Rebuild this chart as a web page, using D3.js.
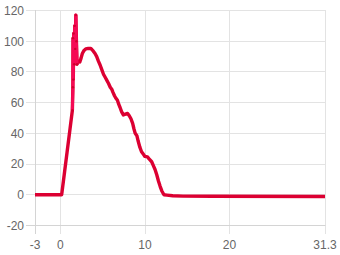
<!DOCTYPE html>
<html><head><meta charset="utf-8">
<script src="https://cdn.jsdelivr.net/npm/d3@7"></script>
<style>html,body{margin:0;padding:0;background:#fff;}svg{display:block;}</style>
</head><body>
<svg id="c" width="340" height="255"></svg>
<script>
const xTicks = [-3, 0, 10, 20, 31.3];
const yTicks = [-20, 0, 20, 40, 60, 80, 100, 120];
const xs = [-3, 0, 0.15, 0.2, 0.5, 0.8, 1.1, 1.42, 1.48, 1.5, 1.53, 1.58, 1.63, 1.7, 1.76, 1.83, 1.9, 1.97, 2.1, 2.3, 2.45, 2.6, 2.8, 3.0, 3.3, 3.6, 3.9, 4.1, 4.3, 4.5, 4.7, 4.9, 5.1, 5.3, 5.5, 5.7, 5.9, 6.1, 6.2, 6.4, 6.55, 6.75, 6.9, 7.05, 7.25, 7.45, 7.7, 7.95, 8.15, 8.35, 8.55, 8.7, 8.85, 9.05, 9.2, 9.4, 9.6, 9.8, 10.0, 10.3, 10.55, 10.8, 11.0, 11.2, 11.4, 11.6, 11.8, 12.0, 12.25, 12.6, 13.3, 14.5, 18, 31.3];
const ys = [0, 0, 0, 2, 15, 28, 41, 55, 70, 102, 75, 105, 85, 110, 95, 117, 100, 85, 87, 86.5, 89, 92, 94, 95, 95.3, 95.3, 93.5, 92, 90, 87, 84.5, 81.5, 78.5, 76.5, 74.5, 72.5, 70, 68.5, 67, 64.5, 63, 61.5, 59, 57, 54, 52, 52.5, 53, 51.5, 49.5, 46.5, 43, 40, 38.5, 35, 31, 28, 26.5, 25, 24.7, 23, 21.5, 19, 16.5, 13, 9, 5.5, 2.5, 0, -0.2, -0.6, -0.9, -1, -1.1];

const svg = d3.select('#c');
const x = d3.scaleLinear().domain([-3, 31.3]).range([35, 325]);
const y = d3.scaleLinear().domain([-20, 120]).range([225.5, 10.5]);
const px = v => Math.round(x(v)) + 0.5;
const py = v => Math.round(y(v) - 0.5) + 0.5;

const grid = svg.append('g');
yTicks.forEach(t => {
  grid.append('line').attr('x1', 26).attr('x2', 325.5).attr('y1', py(t)).attr('y2', py(t))
    .attr('stroke', '#e3e3e3').attr('stroke-width', 1);
});
xTicks.forEach(t => {
  grid.append('line').attr('x1', px(t)).attr('x2', px(t)).attr('y1', 10).attr('y2', 234)
    .attr('stroke', '#e3e3e3').attr('stroke-width', 1);
});
grid.append('line').attr('x1', px(-3)).attr('x2', px(-3)).attr('y1', 10).attr('y2', 234).attr('stroke', '#d4d4d4');
grid.append('line').attr('x1', 26).attr('x2', 325.5).attr('y1', py(-20)).attr('y2', py(-20)).attr('stroke', '#d4d4d4');

const font = "'Liberation Sans', Arial, sans-serif";
svg.append('g').selectAll('text').data(yTicks).join('text')
  .attr('x', 24).attr('y', d => y(d) + 4.3).attr('text-anchor', 'end')
  .attr('font-family', font).attr('font-size', 12).attr('fill', '#666').text(d => d);
svg.append('g').selectAll('text').data(xTicks).join('text')
  .attr('x', d => x(d)).attr('y', 249).attr('text-anchor', 'middle')
  .attr('font-family', font).attr('font-size', 12).attr('fill', '#666').text(d => d);

const pts = xs.map((v, i) => [v, ys[i]]);
const line = d3.line().x(d => x(d[0])).y(d => y(d[1]));
svg.append('path').datum(pts)
  .attr('d', line)
  .attr('fill', 'none').attr('stroke', '#dc0032').attr('stroke-width', 3.4)
  .attr('stroke-linejoin', 'round').attr('stroke-linecap', 'butt');
// spike segment drawn lighter, as in the reference
const spike = pts.filter(d => d[0] >= 1.42 && d[0] <= 1.97);
svg.append('path').datum(spike)
  .attr('d', line)
  .attr('fill', 'none').attr('stroke', '#f50a55').attr('stroke-width', 3)
  .attr('stroke-linejoin', 'round');
svg.append('g').selectAll('circle').data(spike).join('circle')
  .attr('cx', d => x(d[0])).attr('cy', d => y(d[1])).attr('r', 1.2).attr('fill', '#d0002e');
</script>
</body></html>
